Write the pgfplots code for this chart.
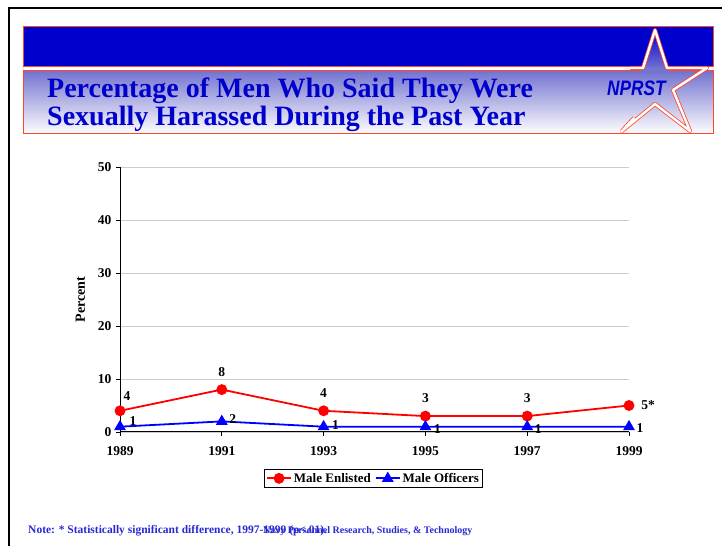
\documentclass[border=0pt]{standalone}
\usepackage{pgfplots}
\pgfplotsset{compat=1.18}
\usepackage{fontspec}
\setmainfont{Liberation Serif}
\newfontfamily\arialfont{Liberation Sans}

\definecolor{titleblue}{RGB}{0,0,204}
\definecolor{boxred}{RGB}{255,70,40}
\definecolor{noteblue}{RGB}{40,40,210}
\definecolor{shadeblue}{RGB}{115,115,208}

\newcommand{\lab}{\bfseries\fontsize{13.5bp}{13.5bp}\selectfont}

\begin{document}
\begin{tikzpicture}[x=1bp,y=1bp]
\path[use as bounding box] (0,0) rectangle (722,546);

% slide frame
\draw[line width=2.5bp] (9,0) -- (9,538) -- (722,538);

% header band and title box
\fill[titleblue] (23,479) rectangle (713,519);
\draw[boxred, line width=1bp] (23,479) rectangle (713,519);
\shade[top color=shadeblue, bottom color=white] (23,412) rectangle (713,475);
\draw[boxred, line width=1bp] (23,412) rectangle (713,475);

% star emblem: shaded top point, then the outlined arms
\shade[top color=titleblue, bottom color=shadeblue]
  (655,516) -- (667,477) -- (643,477) -- cycle;
\fill[shadeblue] (641,475) rectangle (669,479);
\draw[boxred, line width=0.8bp, double=white, double distance=2.4bp,
      line join=round, line cap=butt]
  (634,428) -- (622,415) -- (655,442) -- (690,415) -- (673,456)
  -- (707,478) -- (667,478) -- (655,516) -- (643,478) -- (630,478);

% title
\node[anchor=base west, inner sep=0pt, text=titleblue,
      font=\bfseries\fontsize{28bp}{30bp}\selectfont] at (47,448)
  {Percentage of Men Who Said They Were};
\node[anchor=base west, inner sep=0pt, text=titleblue,
      font=\bfseries\fontsize{28bp}{30bp}\selectfont] at (47,420)
  {Sexually Harassed During the Past Year};
\node[anchor=base west, inner sep=0pt, text=titleblue,
      font=\arialfont\bfseries\itshape\fontsize{21bp}{21bp}\selectfont] at (607,450)
  {\scalebox{0.82}[1]{NPRST}};

\begin{axis}[
  at={(120bp,114bp)}, anchor=south west,
  scale only axis, width=509bp, height=265bp,
  xmin=1989, xmax=1999, ymin=0, ymax=50,
  axis x line=bottom, axis y line=left,
  axis line style={-, line width=1bp},
  xtick={1989,1991,1993,1995,1997,1999},
  ytick={0,10,20,30,40,50},
  tick align=outside, major tick length=4bp,
  tick style={black, line width=0.8bp},
  ymajorgrids, grid style={gray!40, line width=0.8bp},
  /pgf/number format/assume math mode=true,
  xticklabel style={/pgf/number format/1000 sep={}, yshift=-7bp},
  yticklabel style={xshift=-1bp},
  ticklabel style={font=\lab},
  ylabel={Percent},
  ylabel style={at={(axis description cs:-0.078,0.5)}, anchor=center,
                font=\bfseries\fontsize{14bp}{14bp}\selectfont},
  clip=false,
  legend style={at={(0.498,-0.175)}, anchor=center, legend columns=2,
                draw=black, line width=0.8bp,
                font=\bfseries\fontsize{13bp}{13bp}\selectfont,
                inner sep=1.5bp,
                /tikz/every even column/.append style={column sep=2bp}},
  legend image code/.code={%
    \draw[mark repeat=2, mark phase=2]
      plot coordinates {(0bp,0bp) (12bp,0bp) (24bp,0bp)};},
]
\addplot[color=red, line width=1.8bp, mark=*, mark size=4.5bp,
         mark options={solid}]
  coordinates {(1989,4) (1991,8) (1993,4) (1995,3) (1997,3) (1999,5)};
\addlegendentry{Male Enlisted}
\addplot[color=blue, line width=1.8bp, mark=triangle*, mark size=5bp,
         mark options={solid}]
  coordinates {(1989,1) (1991,2) (1993,1) (1995,1) (1997,1) (1999,1)};
\addlegendentry{Male Officers}

% value labels, enlisted
\node[font=\lab, xshift=7bp, yshift=15bp] at (axis cs:1989,4) {4};
\node[font=\lab, yshift=18bp] at (axis cs:1991,8) {8};
\node[font=\lab, yshift=18bp] at (axis cs:1993,4) {4};
\node[font=\lab, yshift=18bp] at (axis cs:1995,3) {3};
\node[font=\lab, yshift=18bp] at (axis cs:1997,3) {3};
\node[font=\lab, xshift=19bp] at (axis cs:1999,5) {5*};
% value labels, officers
\node[font=\lab, xshift=13bp, yshift=6bp] at (axis cs:1989,1) {1};
\node[font=\lab, xshift=11bp, yshift=2bp] at (axis cs:1991,2) {2};
\node[font=\lab, xshift=12bp, yshift=2bp] at (axis cs:1993,1) {1};
\node[font=\lab, xshift=12bp, yshift=-2bp] at (axis cs:1995,1) {1};
\node[font=\lab, xshift=11bp, yshift=-2bp] at (axis cs:1997,1) {1};
\node[font=\lab, xshift=11bp, yshift=-1bp] at (axis cs:1999,1) {1};
\end{axis}

% footer
\node[anchor=base west, inner sep=0pt, text=noteblue,
      font=\bfseries\fontsize{11.5bp}{12bp}\selectfont] at (28,12)
  {Note: * Statistically significant difference, 1997-1999 (p<.01).};
\node[anchor=base west, inner sep=0pt, text=noteblue,
      font=\bfseries\fontsize{10bp}{12bp}\selectfont] at (263,12)
  {Navy Personnel Research, Studies, \& Technology};
\end{tikzpicture}
\end{document}
